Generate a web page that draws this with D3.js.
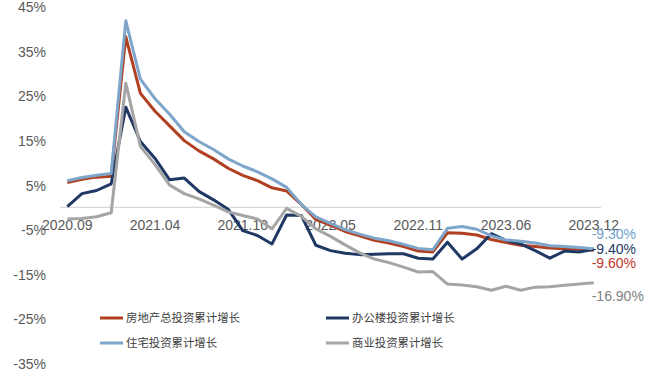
<!DOCTYPE html>
<html>
<head>
<meta charset="utf-8">
<script src="https://cdn.jsdelivr.net/npm/d3@7"></script>
<style>
  html, body { margin: 0; padding: 0; background: #fff; }
  svg { display: block; }
</style>
</head>
<body>
<div id="chart"></div>
<script>
const categories = ["2020.09","2020.10","2020.11","2020.12",
  "2021.02","2021.03","2021.04","2021.05","2021.06","2021.07","2021.08","2021.09","2021.10","2021.11","2021.12",
  "2022.02","2022.03","2022.04","2022.05","2022.06","2022.07","2022.08","2022.09","2022.10","2022.11","2022.12",
  "2023.02","2023.03","2023.04","2023.05","2023.06","2023.07","2023.08","2023.09","2023.10","2023.11","2023.12"];
const tickLabels = ["2020.09","2021.04","2021.10","2022.05","2022.11","2023.06","2023.12"];
const yTicks = [-35,-25,-15,-5,5,15,25,35,45];

const seriesNames = ["房地产总投资累计增长","办公楼投资累计增长","住宅投资累计增长","商业投资累计增长"];
const totalGrowth = [5.6,6.3,6.8,7.0, 38.3,25.6,21.6,18.3,15.0,12.7,10.9,8.8,7.2,6.0,4.4,
  3.7,0.7,-2.7,-4.0,-5.4,-6.4,-7.4,-8.0,-8.8,-9.8,-10.0,
  -5.7,-5.8,-6.2,-7.2,-7.9,-8.5,-8.8,-9.1,-9.3,-9.4,-9.6];
const officeGrowth = [0.2,3.1,3.8,5.3, 22.5,14.8,11.0,6.2,6.6,3.6,1.7,-0.4,-5.2,-6.3,-8.2,
  -1.7,-1.8,-8.5,-9.7,-10.3,-10.6,-10.5,-10.4,-10.4,-11.4,-11.6,
  -7.8,-11.6,-9.3,-5.9,-7.4,-8.2,-9.7,-11.4,-9.8,-10.0,-9.4];
const residentialGrowth = [6.0,6.7,7.2,7.6, 41.9,28.8,24.4,20.9,17.0,14.8,13.0,10.9,9.3,8.0,6.4,
  4.5,0.7,-2.1,-3.6,-5.0,-6.0,-6.9,-7.5,-8.3,-9.2,-9.5,
  -4.7,-4.3,-4.9,-6.4,-7.3,-7.6,-8.0,-8.6,-8.8,-9.0,-9.3];
const commercialGrowth = [-2.6,-2.5,-2.1,-1.2, 27.9,13.7,9.6,5.0,3.1,1.9,0.5,-1.0,-1.8,-2.6,-4.8,
  -0.2,-2.0,-4.8,-6.5,-8.4,-10.2,-11.6,-12.4,-13.4,-14.5,-14.4,
  -17.2,-17.4,-17.8,-18.6,-17.7,-18.6,-17.9,-17.8,-17.5,-17.2,-16.9];
const endLabels = ["-9.60%","-9.40%","-9.30%","-16.90%"];

const W = 652, H = 371;
const lineColors = ["#B0401F","#1F3864","#7EA6CB","#A5A5A5"];
const labelColors = ["#C0392B","#1F3864","#6F9FCB","#808080"];
const labelDy = [12.5, 0, -15, 13];
const numFont = "'Liberation Sans', Arial, sans-serif";
const cjkFont = "'Noto Sans CJK SC', 'Liberation Sans', sans-serif";

const svg = d3.select("#chart").append("svg")
  .attr("width", W).attr("height", H)
  .style("background", "#fff");

const x = d3.scaleBand().domain(categories).range([60, 601]).padding(0);
const cx = d => x(d) + x.bandwidth() / 2;
const y = d3.scaleLinear().domain([-35, 45]).range([363.3, 7]);

// Y axis labels (no axis line)
const yAxis = d3.axisLeft(y).tickValues(yTicks).tickSize(0).tickPadding(0)
  .tickFormat(d => d + "%");
const gy = svg.append("g").attr("transform", "translate(46,0)").call(yAxis);
gy.select(".domain").remove();
gy.selectAll("text").attr("font-family", numFont).attr("font-size", 14)
  .attr("fill", "#595959").attr("dy", "0.35em");

// Zero line with category labels
svg.append("line").attr("x1", 60).attr("x2", 601).attr("y1", y(0)).attr("y2", y(0))
  .attr("stroke", "#D9D9D9").attr("stroke-width", 1.2);
const xAxis = d3.axisBottom(x).tickValues(tickLabels).tickSize(0).tickPadding(0);
const gx = svg.append("g").attr("transform", `translate(0,${y(0)})`).call(xAxis);
gx.select(".domain").remove();
gx.selectAll("text").attr("font-family", numFont).attr("font-size", 14)
  .attr("fill", "#595959").attr("dy", null).attr("y", 23);

// Lines
const allSeries = [totalGrowth, officeGrowth, residentialGrowth, commercialGrowth];
const line = d3.line().x((d, i) => cx(categories[i])).y(d => y(d));
allSeries.forEach((s, k) => {
  svg.append("path").datum(s).attr("d", line)
    .attr("fill", "none").attr("stroke", lineColors[k])
    .attr("stroke-width", 3).attr("stroke-linejoin", "round");
});

// End labels
allSeries.forEach((s, k) => {
  const last = categories[categories.length - 1];
  svg.append("text")
    .attr("x", cx(last) - 2)
    .attr("y", y(s[s.length - 1]) + labelDy[k])
    .attr("dy", "0.35em")
    .attr("font-family", numFont).attr("font-size", 14)
    .attr("fill", labelColors[k])
    .text(endLabels[k]);
});

// Legend
const legendPos = [[100, 318], [326, 318], [100, 343], [326, 343]];
const legendOrder = [0, 1, 2, 3];
legendOrder.forEach((k, j) => {
  const [lx, ly] = legendPos[j];
  const g = svg.append("g");
  g.append("line").attr("x1", lx).attr("x2", lx + 23).attr("y1", ly).attr("y2", ly)
    .attr("stroke", lineColors[k]).attr("stroke-width", 3);
  g.append("text").attr("x", lx + 26).attr("y", ly).attr("dy", "0.36em")
    .attr("font-family", cjkFont).attr("font-size", 11.4).attr("fill", "#404040")
    .text(seriesNames[k]);
});
</script>
</body>
</html>
